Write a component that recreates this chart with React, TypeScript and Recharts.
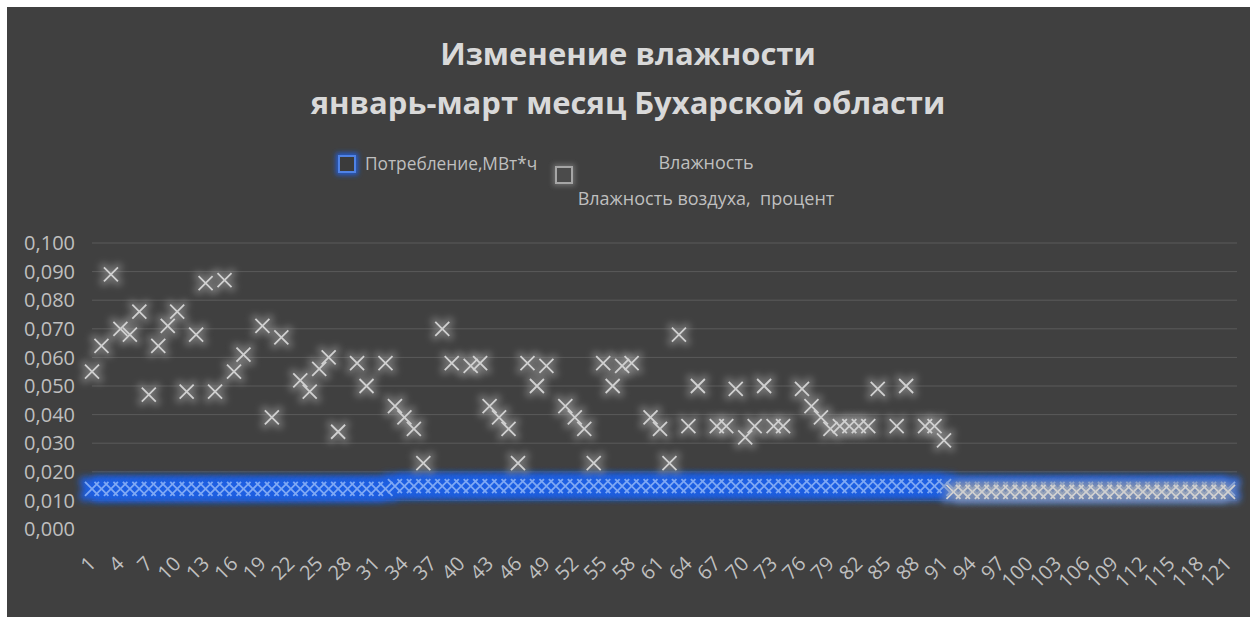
import React from 'react';
import { ComposedChart, Line, XAxis, YAxis, CartesianGrid } from 'recharts';

const title1 = 'Изменение влажности';
const title2 = 'январь-март месяц Бухарской области';
const seriesNames = ['Потребление,МВт*ч', 'Влажность', 'Влажность воздуха,  процент'];

const days: number[] = Array.from({ length: 121 }, (_, i) => i + 1);

const consumption: number[] = [
  0.014, 0.014, 0.014, 0.014, 0.014, 0.014, 0.014, 0.014, 0.014, 0.014,
  0.014, 0.014, 0.014, 0.014, 0.014, 0.014, 0.014, 0.014, 0.014, 0.014,
  0.014, 0.014, 0.014, 0.014, 0.014, 0.014, 0.014, 0.014, 0.014, 0.014,
  0.014, 0.014, 0.015, 0.015, 0.015, 0.015, 0.015, 0.015, 0.015, 0.015,
  0.015, 0.015, 0.015, 0.015, 0.015, 0.015, 0.015, 0.015, 0.015, 0.015,
  0.015, 0.015, 0.015, 0.015, 0.015, 0.015, 0.015, 0.015, 0.015, 0.015,
  0.015, 0.015, 0.015, 0.015, 0.015, 0.015, 0.015, 0.015, 0.015, 0.015,
  0.015, 0.015, 0.015, 0.015, 0.015, 0.015, 0.015, 0.015, 0.015, 0.015,
  0.015, 0.015, 0.015, 0.015, 0.015, 0.015, 0.015, 0.015, 0.015, 0.015,
  0.015, 0.014, 0.014, 0.014, 0.014, 0.014, 0.014, 0.014, 0.014, 0.014,
  0.014, 0.014, 0.014, 0.014, 0.014, 0.014, 0.014, 0.014, 0.014, 0.014,
  0.014, 0.014, 0.014, 0.014, 0.014, 0.014, 0.014, 0.014, 0.014, 0.014,
  0.014,
];

const humidity: (number | null)[] = [
  0.055, 0.064, 0.089, 0.070, 0.068, 0.076, 0.047, 0.064, 0.071, 0.076,
  0.048, 0.068, 0.086, 0.048, 0.087, 0.055, 0.061, null, 0.071, 0.039,
  0.067, null, 0.052, 0.048, 0.056, 0.060, 0.034, null, 0.058, 0.050,
  null, 0.058, 0.043, 0.039, 0.035, 0.023, null, 0.070, 0.058, null,
  0.057, 0.058, 0.043, 0.039, 0.035, 0.023, 0.058, 0.050, 0.057, null,
  0.043, 0.039, 0.035, 0.023, 0.058, 0.050, 0.057, 0.058, null, 0.039,
  0.035, 0.023, 0.068, 0.036, 0.050, null, 0.036, 0.036, 0.049, 0.032,
  0.036, 0.050, 0.036, 0.036, null, 0.049, 0.043, 0.039, 0.035, 0.036,
  0.036, 0.036, 0.036, 0.049, null, 0.036, 0.050, null, 0.036, 0.036,
  0.031, 0.013, 0.013, 0.013, 0.013, 0.013, 0.013, 0.013, 0.013, 0.013,
  0.013, 0.013, 0.013, 0.013, 0.013, 0.013, 0.013, 0.013, 0.013, 0.013,
  0.013, 0.013, 0.013, 0.013, 0.013, 0.013, 0.013, 0.013, 0.013, 0.013,
  0.013,
];

const yTicks = [0, 0.01, 0.02, 0.03, 0.04, 0.05, 0.06, 0.07, 0.08, 0.09, 0.1];
const gridValues = [0.01, 0.02, 0.03, 0.04, 0.05, 0.06, 0.07, 0.08, 0.09, 0.1];

const data = days.map((d, i) => ({ day: d, cons: consumption[i], hum: humidity[i] }));

const BG = '#404040';
const TXT = '#bfbfbf';
const FONT = '"Open Sans", "Noto Sans", sans-serif';
const R = 7;

const crossPath = (cx: number, cy: number) =>
  `M${cx - R},${cy - R}L${cx + R},${cy + R}M${cx + R},${cy - R}L${cx - R},${cy + R}`;

const makeCross = (stroke: string) => (props: any) => {
  const { cx, cy, value, index } = props;
  if (value == null || cx == null || cy == null || isNaN(cy)) return <g key={`n${index}`} />;
  return <path key={`p${index}`} d={crossPath(cx, cy)} stroke={stroke} strokeWidth={1.8} fill="none" />;
};

const makeGlow = (stroke: string, width: number, opacity: number, filter: string) => (props: any) => {
  const { cx, cy, value, index } = props;
  if (value == null || cx == null || cy == null || isNaN(cy)) return <g key={`gn${index}`} />;
  return (
    <path
      key={`g${index}`}
      d={crossPath(cx, cy)}
      stroke={stroke}
      strokeWidth={width}
      strokeLinecap="round"
      strokeOpacity={opacity}
      fill="none"
      filter={`url(#${filter})`}
    />
  );
};

const blueGlow = makeGlow('#1f5fe3', 11, 1, 'blurBlue');
const blueDot = makeCross('#7ea8f4');
const grayGlow = makeGlow('#a0a0a0', 9, 0.5, 'blurGray');
const grayDot = makeCross('#d0d0d0');

const XTick = (props: any) => {
  const { x, y, payload } = props;
  return (
    <text
      transform={`translate(${x + 5},${y + 36}) rotate(-45)`}
      textAnchor="end"
      fill={TXT}
      fontSize={20}
      fontFamily={FONT}
    >
      {payload.value}
    </text>
  );
};

export default function App() {
  return (
    <div style={{ position: 'absolute', left: 7, top: 7, width: 1243, height: 610, background: BG, overflow: 'hidden' }}>
      <svg width={0} height={0} style={{ position: 'absolute' }}>
        <defs>
          <filter id="blurBlue" x="-100%" y="-100%" width="300%" height="300%">
            <feGaussianBlur stdDeviation="3.5" />
          </filter>
          <filter id="blurGray" x="-100%" y="-100%" width="300%" height="300%">
            <feGaussianBlur stdDeviation="3.5" />
          </filter>
          <filter id="glowBlueBox" x="-100%" y="-100%" width="300%" height="300%">
            <feMorphology in="SourceAlpha" operator="dilate" radius="2" result="d" />
            <feGaussianBlur in="d" stdDeviation="2.5" result="b" />
            <feFlood floodColor="#1f5fe3" floodOpacity="0.9" />
            <feComposite in2="b" operator="in" result="g" />
            <feMerge>
              <feMergeNode in="g" />
              <feMergeNode in="SourceGraphic" />
            </feMerge>
          </filter>
          <filter id="glowGrayBox" x="-100%" y="-100%" width="300%" height="300%">
            <feMorphology in="SourceAlpha" operator="dilate" radius="2" result="d" />
            <feGaussianBlur in="d" stdDeviation="2.5" result="b" />
            <feFlood floodColor="#8f8f8f" floodOpacity="0.55" />
            <feComposite in2="b" operator="in" result="g" />
            <feMerge>
              <feMergeNode in="g" />
              <feMergeNode in="SourceGraphic" />
            </feMerge>
          </filter>
        </defs>
      </svg>
      <div style={{ position: 'absolute', left: 0, top: 0 }}>
        <ComposedChart width={1243} height={610} data={data} margin={{ top: 236, right: 13, left: 0, bottom: 0 }}>
          <CartesianGrid vertical={false} stroke="#5a5a5a" horizontalValues={gridValues} />
          <XAxis
            dataKey="day"
            type="category"
            interval={2}
            padding={{ left: 0, right: 9 }}
            axisLine={false}
            tickLine={false}
            tickSize={0}
            tickMargin={0}
            height={88}
            tick={<XTick />}
          />
          <YAxis
            type="number"
            domain={[0, 0.1]}
            ticks={yTicks}
            width={85}
            axisLine={false}
            tickLine={false}
            tickSize={0}
            tickMargin={17}
            tickFormatter={(v: number) => v.toFixed(3).replace('.', ',')}
            tick={{ fill: TXT, fontSize: 20, fontFamily: FONT }}
          />
          <Line dataKey="cons" name="consGlow" legendType="none" stroke="none" isAnimationActive={false} dot={blueGlow} activeDot={false} />
          <Line dataKey="cons" name={seriesNames[0]} stroke="none" isAnimationActive={false} dot={blueDot} activeDot={false} />
          <Line dataKey="hum" name="humGlow" legendType="none" stroke="none" isAnimationActive={false} dot={grayGlow} activeDot={false} />
          <Line dataKey="hum" name={seriesNames[2]} stroke="none" isAnimationActive={false} dot={grayDot} activeDot={false} />
        </ComposedChart>
      </div>
      <svg width={1243} height={230} style={{ position: 'absolute', left: 0, top: 0, pointerEvents: 'none' }}>
        <text x={621} y={46} textAnchor="middle" dominantBaseline="central" fill="#d9d9d9" fontSize={31} fontWeight="bold" fontFamily={FONT}>
          {title1}
        </text>
        <text x={621} y={95} textAnchor="middle" dominantBaseline="central" fill="#d9d9d9" fontSize={31} fontWeight="bold" fontFamily={FONT}>
          {title2}
        </text>
        <rect x={332} y={149} width={16} height={16} fill="#3a3a3a" stroke="#4f82e6" strokeWidth={2} filter="url(#glowBlueBox)" />
        <text x={358} y={156} dominantBaseline="central" fill={TXT} fontSize={17.3} fontFamily={FONT}>
          {seriesNames[0]}
        </text>
        <rect x={549} y={160} width={16} height={16} fill="#4c4c4c" stroke="#a6a6a6" strokeWidth={2} filter="url(#glowGrayBox)" />
        <text x={699} y={155} textAnchor="middle" dominantBaseline="central" fill={TXT} fontSize={18} fontFamily={FONT}>
          {seriesNames[1]}
        </text>
        <text x={699} y={191} textAnchor="middle" dominantBaseline="central" fill={TXT} fontSize={18} fontFamily={FONT} style={{ whiteSpace: 'pre' }}>
          {seriesNames[2]}
        </text>
      </svg>
    </div>
  );
}
